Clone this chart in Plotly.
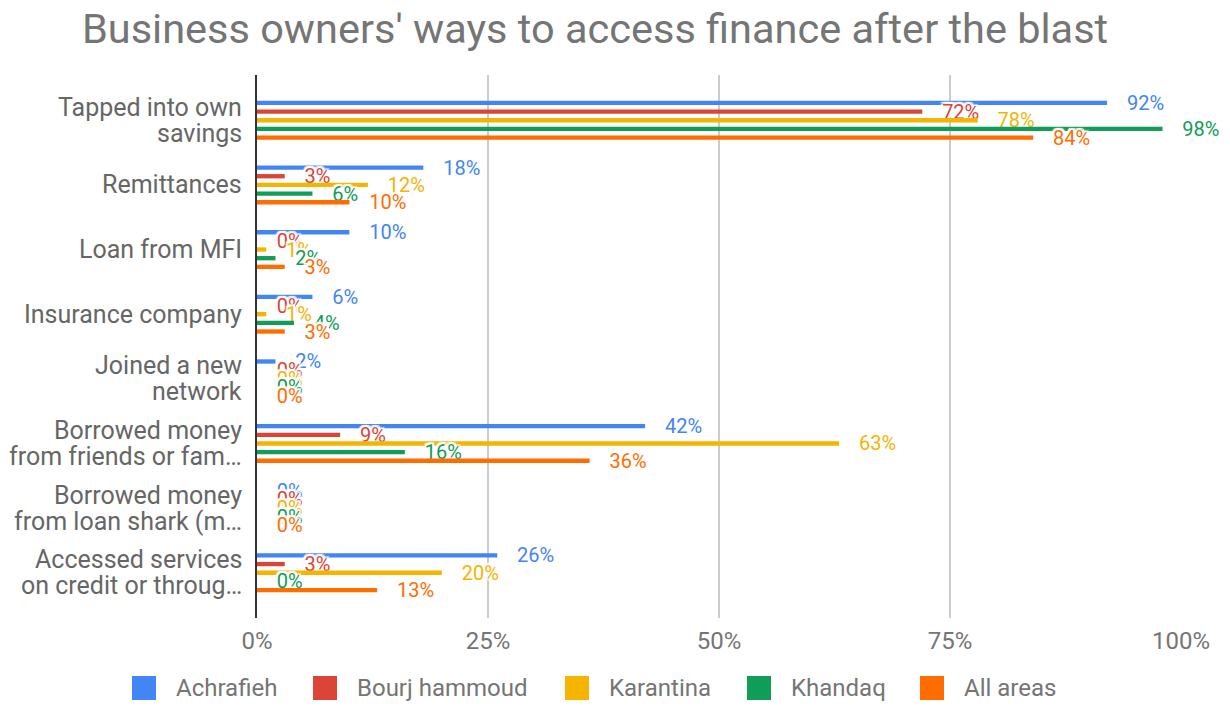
import plotly.graph_objects as go

categories = [
    "Tapped into own\nsavings",
    "Remittances",
    "Loan from MFI",
    "Insurance company",
    "Joined a new\nnetwork",
    "Borrowed money\nfrom friends or fam…",
    "Borrowed money\nfrom loan shark (m…",
    "Accessed services\non credit or throug…",
]
series_names = ["Achrafieh", "Bourj hammoud", "Karantina", "Khandaq", "All areas"]
achrafieh = [92, 18, 10, 6, 2, 42, 0, 26]
bourj = [72, 3, 0, 0, 0, 9, 0, 3]
karantina = [78, 12, 1, 1, 0, 63, 0, 20]
khandaq = [98, 6, 2, 4, 0, 16, 0, 0]
all_areas = [84, 10, 3, 3, 0, 36, 0, 13]
colors = ["#4285F4", "#DB4437", "#F4B400", "#0F9D58", "#FF6D01"]
x_ticks = [0, 25, 50, 75, 100]
x_tick_labels = ["0%", "25%", "50%", "75%", "100%"]

# figure geometry (pixels, figure coordinates)
W, H = 1222, 698
ML, MR, MT, MB = 249, 49, 67, 88
PW, PH = W - ML - MR, H - MT - MB


def px_to_paper_x(px):
    return (px - ML) / PW


def px_to_paper_y(py):
    return (H - MB - py) / PH


NB = "\u00a0"
HALO = ("white 2px 0px 1px, white -2px 0px 1px, white 0px 2px 1px, "
        "white 0px -2px 1px, white 2px 2px 1px, white -2px -2px 1px, "
        "white 2px -2px 1px, white -2px 2px 1px")
fig = go.Figure()
for name, vals, col in zip(series_names, [achrafieh, bourj, karantina, khandaq, all_areas], colors):
    fig.add_trace(go.Bar(
        y=categories, x=vals, name=name, orientation="h",
        marker=dict(color=col, line=dict(width=0)),
        text=[f"{NB*4}{v}%" for v in vals], textposition="outside",
        textfont=dict(color=col, size=20, family="Roboto", shadow=HALO),
        constraintext="none", cliponaxis=False, showlegend=False,
    ))

# category labels with tight line spacing
annotations = []
for cat in categories:
    lines = cat.split("\n")
    n = len(lines)
    for i, ln in enumerate(lines):
        annotations.append(dict(
            x=0, xref="paper", y=cat, yref="y", text=ln, showarrow=False,
            xanchor="right", yanchor="middle", xshift=-13,
            yshift=(n - 1) * 13 - i * 26,
            font=dict(size=25, color="#666666", family="Roboto"),
        ))

# custom legend (swatch + label) laid out along the bottom
legend_swatch_left = [124, 305, 557, 739, 912]
swatch = 24
legend_cy = 680
shapes = []
for name, col, lx in zip(series_names, colors, legend_swatch_left):
    shapes.append(dict(
        type="rect", xref="paper", yref="paper",
        x0=px_to_paper_x(lx), x1=px_to_paper_x(lx + swatch),
        y0=px_to_paper_y(legend_cy + swatch / 2), y1=px_to_paper_y(legend_cy - swatch / 2),
        fillcolor=col, line=dict(width=0), layer="above",
    ))
    annotations.append(dict(
        x=px_to_paper_x(lx + swatch + 18), y=px_to_paper_y(legend_cy),
        xref="paper", yref="paper", text=name, showarrow=False,
        xanchor="left", yanchor="middle",
        font=dict(size=24, color="#757575", family="Roboto"),
    ))

fig.update_layout(
    width=W, height=H,
    barmode="group", bargap=0.33, bargroupgap=0.5,
    font=dict(family="Roboto", color="#757575"),
    paper_bgcolor="white", plot_bgcolor="white",
    margin=dict(l=ML, r=MR, t=MT, b=MB, autoexpand=False),
    title=dict(text="Business owners' ways to access finance after the blast",
               x=0.4804, xanchor="center", y=0.9713, yanchor="middle",
               font=dict(size=41.5, color="#757575", family="Roboto")),
    xaxis=dict(range=[0, 100], tickvals=x_ticks, ticktext=x_tick_labels,
               showgrid=True, gridcolor="#CCCCCC", gridwidth=1.5, zeroline=False,
               tickfont=dict(size=24, color="#757575"), ticks="", showline=False,
               ticklabelstandoff=6),
    yaxis=dict(range=[7.7, -0.7], showticklabels=False,
               showline=True, linecolor="#333333", linewidth=2, ticks="",
               showgrid=False),
    showlegend=False,
    annotations=annotations,
    shapes=shapes,
)
fig.write_html("out.html")
